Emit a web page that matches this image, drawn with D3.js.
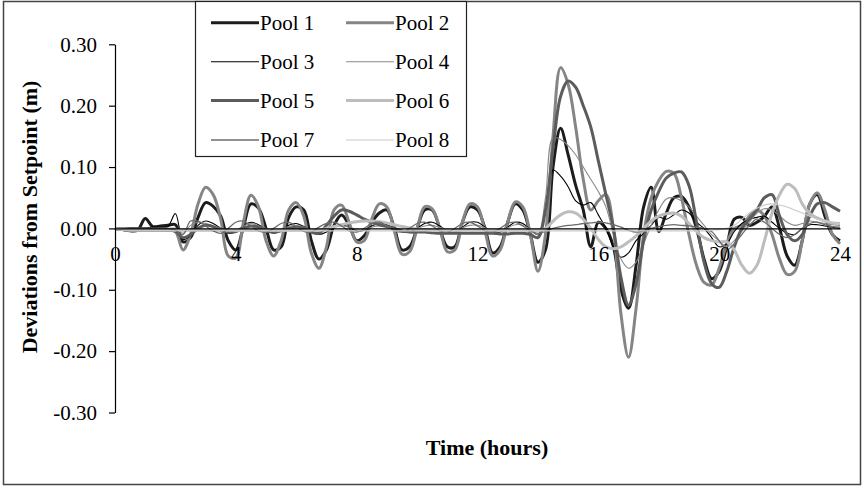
<!DOCTYPE html>
<html>
<head>
<meta charset="utf-8">
<script src="https://cdn.jsdelivr.net/npm/d3@7"></script>
<style>
  html, body { margin: 0; padding: 0; background: #fff; }
  svg { display: block; }
</style>
</head>
<body>
<svg id="chart" width="864" height="488"></svg>
<script>
// Time grid (hours), one sample every quarter hour
const hours = [
  0, 0.25, 0.5, 0.75, 1, 1.25, 1.5, 1.75, 2, 2.25, 2.5, 2.75,
  3, 3.25, 3.5, 3.75, 4, 4.25, 4.5, 4.75, 5, 5.25, 5.5, 5.75,
  6, 6.25, 6.5, 6.75, 7, 7.25, 7.5, 7.75, 8, 8.25, 8.5, 8.75,
  9, 9.25, 9.5, 9.75, 10, 10.25, 10.5, 10.75, 11, 11.25, 11.5, 11.75,
  12, 12.25, 12.5, 12.75, 13, 13.25, 13.5, 13.75, 14, 14.25, 14.5, 14.75,
  15, 15.25, 15.5, 15.75, 16, 16.25, 16.5, 16.75, 17, 17.25, 17.5, 17.75,
  18, 18.25, 18.5, 18.75, 19, 19.25, 19.5, 19.75, 20, 20.25, 20.5, 20.75,
  21, 21.25, 21.5, 21.75, 22, 22.25, 22.5, 22.75, 23, 23.25, 23.5, 23.75,
  24
];

// Deviations from setpoint (m) for each pool
const pool1 = [
  0.000, -0.002, -0.004, -0.003,   0.016, 0.003, 0.004, 0.005,
  0.006, -0.022, -0.015, 0.018,    0.042, 0.036, 0.020, -0.020,
  -0.035, 0.002, 0.040, 0.033,     0.000, -0.035, -0.030, 0.018,
  0.035, 0.030, -0.020, -0.050,    -0.035, 0.005, 0.022, 0.005,
  -0.020, -0.012, 0.010, 0.025,    0.030, 0.000, -0.035, -0.030,
  0.000, 0.030, 0.030, 0.000,      -0.030, -0.030, 0.010, 0.035,
  0.030, 0.000, -0.040, -0.030,    0.010, 0.040, 0.030, -0.010,
  -0.055, -0.035, 0.100, 0.163,    0.120, 0.070, 0.030, -0.030,
  0.010, 0.000, -0.030, -0.100,    -0.130, -0.060, 0.035, 0.067,
  -0.005, 0.025, 0.050, 0.052,     0.035, 0.000, -0.050, -0.082,
  -0.070, -0.030, 0.015, 0.018,    0.005, 0.010, 0.020, 0.035,
  0.000, -0.045, -0.060, -0.020,   0.040, 0.055, 0.020, -0.010,
  -0.020
];
const pool2 = [
  0.000, -0.001, -0.002, -0.002,   -0.002, -0.002, -0.002, -0.003,
  -0.005, -0.035, -0.010, 0.040,   0.067, 0.055, 0.015, -0.045,
  -0.048, 0.010, 0.054, 0.035,     -0.020, -0.045, -0.020, 0.030,
  0.042, 0.020, -0.040, -0.065,    -0.030, 0.030, 0.038, 0.010,
  -0.022, -0.020, 0.015, 0.040,    0.035, -0.005, -0.042, -0.038,
  0.000, 0.035, 0.032, 0.000,      -0.038, -0.035, 0.010, 0.040,
  0.035, -0.005, -0.045, -0.035,   0.010, 0.043, 0.035, -0.010,
  -0.070, -0.010, 0.150, 0.262,    0.235, 0.165, 0.080, 0.030,
  0.045, 0.055, 0.000, -0.140,     -0.210, -0.130, -0.010, 0.050,
  0.078, 0.093, 0.090, 0.050,      -0.010, -0.060, -0.088, -0.092,
  -0.065, -0.025, 0.000, 0.005,    0.020, 0.030, 0.020, -0.010,
  -0.050, -0.075, -0.070, -0.020,  0.040, 0.058, 0.030, -0.010,
  -0.025
];
const pool3 = [
  0.000, 0.000, 0.001, 0.001,      0.001, 0.002, 0.002, 0.003,
  0.024, -0.018, -0.012, 0.005,    0.012, 0.008, 0.000, -0.008,
  -0.006, 0.004, 0.010, 0.006,     -0.002, -0.008, -0.004, 0.005,
  0.008, 0.003, -0.005, -0.010,    -0.006, 0.003, 0.006, 0.002,
  -0.004, -0.003, 0.004, 0.008,    0.006, 0.000, -0.006, -0.006,
  0.000, 0.008, 0.010, 0.004,      -0.004, -0.006, 0.002, 0.010,
  0.010, 0.002, -0.006, -0.006,    0.002, 0.010, 0.008, -0.002,
  -0.010, 0.030, 0.095, 0.085,     0.068, 0.045, 0.038, 0.042,
  0.022, 0.000, -0.030, -0.047,    -0.040, -0.020, -0.008, 0.005,
  0.018, 0.015, 0.022, 0.030,      0.025, 0.010, 0.000, -0.015,
  -0.030, -0.025, -0.005, 0.008,   0.015, 0.018, 0.020, 0.010,
  0.000, -0.008, -0.010, 0.000,    0.006, 0.006, 0.004, 0.002,
  0.000
];
const pool4 = [
  0.000, 0.000, 0.000, 0.000,      0.000, 0.000, 0.000, 0.000,
  0.000, -0.008, 0.005, 0.010,     0.008, 0.004, 0.000, -0.004,
  -0.003, 0.004, 0.008, 0.004,     0.000, -0.004, -0.002, 0.003,
  0.005, 0.002, -0.003, -0.005,    -0.003, 0.002, 0.004, 0.002,
  -0.002, -0.002, 0.002, 0.004,    0.003, 0.000, -0.004, -0.004,
  0.000, 0.004, 0.005, 0.002,      -0.002, -0.004, 0.001, 0.005,
  0.005, 0.001, -0.004, -0.004,    0.001, 0.006, 0.005, -0.002,
  -0.010, 0.050, 0.148, 0.145,     0.135, 0.120, 0.100, 0.080,
  0.060, 0.035, -0.010, -0.050,    -0.065, -0.055, -0.025, 0.005,
  0.030, 0.048, 0.050, 0.045,      0.035, 0.020, 0.005, -0.010,
  -0.020, -0.030, -0.020, -0.005,  0.010, 0.025, 0.032, 0.030,
  0.020, 0.010, 0.005, 0.008,      0.012, 0.010, 0.008, 0.006,
  0.005
];
const pool5 = [
  0.000, -0.002, -0.003, -0.003,   -0.003, -0.003, -0.003, -0.003,
  -0.005, -0.015, -0.010, 0.000,   0.005, 0.003, -0.003, -0.006,
  -0.005, 0.000, 0.004, 0.002,     -0.004, -0.006, -0.004, 0.000,
  0.002, 0.000, -0.006, -0.008,    0.005, 0.020, 0.030, 0.028,
  0.022, 0.015, 0.010, 0.006,      0.003, 0.000, -0.004, -0.006,
  -0.006, -0.006, -0.007, -0.008,  -0.008, -0.008, -0.008, -0.008,
  -0.008, -0.008, -0.008, -0.009,  -0.009, -0.008, -0.008, -0.010,
  -0.015, 0.030, 0.130, 0.215,     0.240, 0.230, 0.200, 0.165,
  0.110, 0.055, 0.000, -0.080,     -0.125, -0.090, -0.020, 0.030,
  0.060, 0.082, 0.090, 0.092,      0.070, 0.010, -0.055, -0.090,
  -0.096, -0.070, -0.030, 0.000,   0.015, 0.030, 0.050, 0.055,
  0.020, -0.010, -0.020, -0.010,   0.020, 0.040, 0.042, 0.035,
  0.028
];
const pool6 = [
  0.000, -0.002, -0.003, -0.003,   -0.003, -0.003, -0.003, -0.003,
  -0.003, -0.003, -0.003, -0.003,  -0.003, -0.003, -0.003, -0.003,
  -0.003, -0.003, -0.003, -0.003,  -0.003, -0.003, -0.003, -0.003,
  -0.003, -0.003, -0.003, -0.003,  0.000, 0.003, 0.006, 0.009,
  0.011, 0.012, 0.012, 0.011,      0.009, 0.006, 0.003, 0.001,
  -0.001, -0.002, -0.003, -0.003,  -0.003, -0.003, -0.003, -0.003,
  -0.003, -0.003, -0.003, -0.003,  -0.003, -0.003, -0.003, -0.003,
  -0.003, 0.000, 0.012, 0.022,     0.027, 0.025, 0.015, 0.000,
  -0.018, -0.030, -0.033, -0.030,  -0.022, -0.012, 0.000, 0.012,
  0.020, 0.024, 0.025, 0.020,      0.008, -0.005, -0.015, -0.020,
  -0.022, -0.022, -0.035, -0.060,  -0.073, -0.060, -0.020, 0.025,
  0.055, 0.072, 0.065, 0.040,      0.024, 0.017, 0.012, 0.009,
  0.008
];
const pool7 = [
  0.000, 0.000, 0.000, 0.000,      0.000, 0.000, 0.000, 0.000,
  -0.003, -0.010, 0.012, 0.012,    0.004, -0.004, -0.008, 0.000,
  0.010, 0.012, 0.004, -0.004,     -0.006, 0.000, 0.008, 0.010,
  0.003, -0.005, -0.006, 0.002,    0.008, 0.010, 0.004, -0.004,
  -0.006, 0.000, 0.008, 0.010,     0.004, -0.004, -0.006, 0.000,
  0.008, 0.010, 0.004, -0.004,     -0.006, 0.000, 0.008, 0.010,
  0.004, -0.004, -0.006, 0.000,    0.008, 0.010, 0.004, -0.004,
  -0.008, -0.005, 0.000, 0.003,    0.005, 0.006, 0.008, 0.009,
  0.010, 0.009, 0.006, 0.002,      -0.003, -0.006, -0.004, 0.000,
  0.003, 0.005, 0.006, 0.005,      0.004, 0.002, 0.000, -0.005,
  -0.020, -0.035, -0.025, -0.010,  0.005, 0.015, 0.010, 0.000,
  -0.010, -0.015, -0.010, 0.000,   0.008, 0.010, 0.006, 0.003,
  0.002
];
const pool8 = [
  0.000, -0.001, -0.002, -0.002,   -0.003, -0.003, -0.003, -0.003,
  -0.003, -0.003, -0.003, -0.003,  -0.003, -0.003, -0.003, -0.003,
  -0.004, -0.004, -0.004, -0.004,  -0.004, -0.004, -0.004, -0.004,
  -0.004, -0.004, -0.004, -0.004,  -0.004, -0.004, -0.004, -0.004,
  -0.004, -0.004, -0.004, -0.004,  -0.004, -0.004, -0.004, -0.004,
  -0.004, -0.004, -0.004, -0.004,  -0.004, -0.004, -0.004, -0.004,
  -0.004, -0.004, -0.004, -0.004,  -0.004, -0.004, -0.004, -0.004,
  -0.004, -0.004, -0.004, -0.004,  -0.004, -0.004, -0.004, -0.004,
  -0.004, -0.004, -0.004, -0.004,  -0.004, -0.004, -0.004, -0.004,
  -0.004, -0.004, -0.004, -0.004,  -0.004, -0.004, -0.004, -0.003,
  -0.002, 0.000, 0.005, 0.015,     0.025, 0.033, 0.038, 0.040,
  0.038, 0.035, 0.030, 0.025,      0.020, 0.015, 0.012, 0.010,
  0.008
];

const poolNames = ["Pool 1", "Pool 2", "Pool 3", "Pool 4", "Pool 5", "Pool 6", "Pool 7", "Pool 8"];
const poolValues = [pool1, pool2, pool3, pool4, pool5, pool6, pool7, pool8];
const xTickValues = [0, 4, 8, 12, 16, 20, 24];
const yTickValues = [-0.3, -0.2, -0.1, 0, 0.1, 0.2, 0.3];

// Line appearance per pool
const lineColors = ["#1c1c1c", "#858585", "#000000", "#8a8a8a", "#5c5c5c", "#bdbdbd", "#6c6c6c", "#c9c9c9"];
const lineWidths = [3, 3, 1.1, 1.1, 3, 3, 1.3, 1.1];

const serif = "'Liberation Serif', 'Times New Roman', serif";
const svg = d3.select("#chart");

// outer frame
svg.append("rect")
  .attr("x", 3.5).attr("y", 1.5)
  .attr("width", 857).attr("height", 483)
  .attr("fill", "#fff").attr("stroke", "#444").attr("stroke-width", 1.5);

const x = d3.scaleLinear().domain([0, 24]).range([115, 840]);
const y = d3.scaleLinear().domain([-0.3, 0.3]).range([412.5, 44.3]);

// series
const line = d3.line()
  .x(d => x(d[0]))
  .y(d => y(d[1]))
  .curve(d3.curveCatmullRom.alpha(0.5));

const series = poolNames.map((name, i) => ({
  name,
  color: lineColors[i],
  width: lineWidths[i],
  points: hours.map((h, j) => [h, poolValues[i][j]])
}));

svg.append("g").selectAll("path")
  .data(series)
  .join("path")
  .attr("d", d => line(d.points))
  .attr("fill", "none")
  .attr("stroke", d => d.color)
  .attr("stroke-width", d => d.width)
  .attr("stroke-linejoin", "round");

// horizontal axis along the zero line
const xAxis = svg.append("g")
  .attr("transform", `translate(0,${y(0)})`)
  .call(d3.axisBottom(x).tickValues(xTickValues).tickFormat(d => String(d))
    .tickSize(0).tickPadding(18));
xAxis.select(".domain").attr("stroke", "#000").attr("stroke-width", 1.2);
xAxis.selectAll("text")
  .attr("font-family", serif).attr("font-size", 21).attr("fill", "#000");

// vertical axis
const yAxis = svg.append("g")
  .attr("transform", `translate(${x(0)},0)`)
  .call(d3.axisLeft(y).tickValues(yTickValues).tickFormat(d => d.toFixed(2))
    .tickSize(6).tickSizeOuter(0).tickPadding(12));
yAxis.select(".domain").attr("stroke", "#000").attr("stroke-width", 1.2);
yAxis.selectAll(".tick line").attr("stroke", "#000").attr("stroke-width", 1.2);
yAxis.selectAll("text")
  .attr("font-family", serif).attr("font-size", 21).attr("fill", "#000");

// axis titles
svg.append("text")
  .attr("x", 487).attr("y", 455)
  .attr("text-anchor", "middle")
  .attr("font-family", serif).attr("font-size", 22).attr("font-weight", "bold")
  .text("Time (hours)");

svg.append("text")
  .attr("transform", "translate(37,217) rotate(-90)")
  .attr("text-anchor", "middle")
  .attr("font-family", serif).attr("font-size", 22).attr("font-weight", "bold")
  .text("Deviations from Setpoint (m)");

// legend
const legend = svg.append("g");
legend.append("rect")
  .attr("x", 195.5).attr("y", 1.5)
  .attr("width", 271).attr("height", 155)
  .attr("fill", "#fff").attr("stroke", "#222").attr("stroke-width", 1.2);

const rowY = [22.7, 61.7, 100.5, 140];
const colX = [211, 346];
const items = legend.selectAll("g.item")
  .data(series)
  .join("g")
  .attr("class", "item")
  .attr("transform", (d, i) => `translate(${colX[i % 2]},${rowY[Math.floor(i / 2)]})`);
items.append("line")
  .attr("x1", 0).attr("x2", 48)
  .attr("y1", 0).attr("y2", 0)
  .attr("stroke", d => d.color)
  .attr("stroke-width", d => d.width);
items.append("text")
  .attr("x", 49).attr("y", 0).attr("dy", "0.34em")
  .attr("font-family", serif).attr("font-size", 21).attr("fill", "#000")
  .text(d => d.name);
</script>
</body>
</html>
